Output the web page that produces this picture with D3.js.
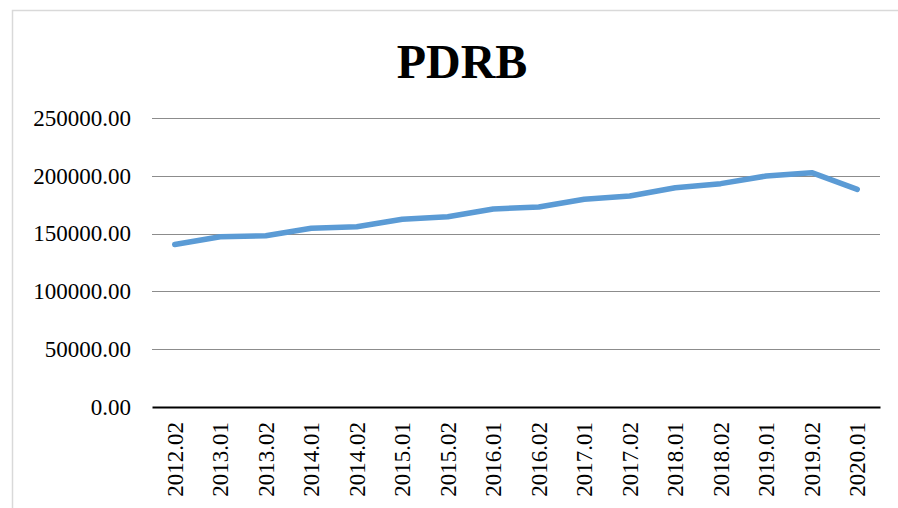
<!DOCTYPE html>
<html>
<head>
<meta charset="utf-8">
<script src="https://cdn.jsdelivr.net/npm/d3@7"></script>
<style>
  body { margin: 0; background: #fff; }
  text { font-family: "Liberation Serif", "Times New Roman", serif; fill: #000; }
</style>
</head>
<body>
<svg width="898" height="508"></svg>
<script>
var periods = ["2012.02","2013.01","2013.02","2014.01","2014.02","2015.01","2015.02","2016.01",
               "2016.02","2017.01","2017.02","2018.01","2018.02","2019.01","2019.02","2020.01"];
var pdrb = [140500, 147300, 148200, 154600, 156000, 162400, 164600, 171300,
            173000, 179700, 182500, 189700, 193200, 199800, 202700, 188300];
var yTicks = [0, 50000, 100000, 150000, 200000, 250000];

var svg = d3.select("svg"),
    width = +svg.attr("width"),
    height = +svg.attr("height");

var margin = {left: 152, right: 18, top: 118, bottom: 101};

// chart frame
svg.append("rect")
  .attr("x", 12.5).attr("y", 10.5)
  .attr("width", 900).attr("height", 520)
  .attr("fill", "#fff")
  .attr("stroke", "#d9d9d9")
  .attr("stroke-width", 1.5);

var x = d3.scaleBand()
  .domain(periods)
  .range([margin.left, width - margin.right]);

var y = d3.scaleLinear()
  .domain([0, 250000])
  .range([height - margin.bottom, margin.top]);

svg.append("text")
  .attr("x", 462)
  .attr("y", 78)
  .attr("text-anchor", "middle")
  .style("font-size", "48px")
  .style("font-weight", "bold")
  .text("PDRB");

// gridlines
svg.append("g")
  .selectAll("line")
  .data(yTicks.filter(function(d) { return d > 0; }))
  .enter().append("line")
    .attr("x1", margin.left)
    .attr("x2", width - margin.right)
    .attr("y1", function(d) { return Math.round(y(d)) + 0.5; })
    .attr("y2", function(d) { return Math.round(y(d)) + 0.5; })
    .attr("stroke", "#8c8c8c")
    .attr("stroke-width", 1);

// y axis labels
var yAxis = svg.append("g")
  .attr("transform", "translate(" + (margin.left - 21) + ",0)")
  .call(d3.axisLeft(y).tickValues(yTicks).tickSize(0).tickFormat(d3.format(".2f")));
yAxis.select(".domain").remove();
yAxis.selectAll("text")
  .attr("x", 0)
  .attr("dy", "0.32em")
  .style("font-size", "23px")
  .style("font-family", "'Liberation Serif', serif");

// x axis
var xAxis = svg.append("g")
  .attr("transform", "translate(0," + y(0) + ")")
  .call(d3.axisBottom(x).tickSize(0));
xAxis.select(".domain")
  .attr("stroke", "#000")
  .attr("stroke-width", 2);
xAxis.selectAll("text")
  .attr("transform", "rotate(-90)")
  .attr("x", -15)
  .attr("y", 0)
  .attr("dy", "0.35em")
  .attr("text-anchor", "end")
  .style("font-size", "23px")
  .style("font-family", "'Liberation Serif', serif");

var line = d3.line()
  .x(function(d, i) { return x(periods[i]) + x.bandwidth() / 2; })
  .y(function(d) { return y(d); });

svg.append("path")
  .datum(pdrb)
  .attr("d", line)
  .attr("fill", "none")
  .attr("stroke", "#5b9bd5")
  .attr("stroke-width", 5.5)
  .attr("stroke-linecap", "round")
  .attr("stroke-linejoin", "round");
</script>
</body>
</html>
